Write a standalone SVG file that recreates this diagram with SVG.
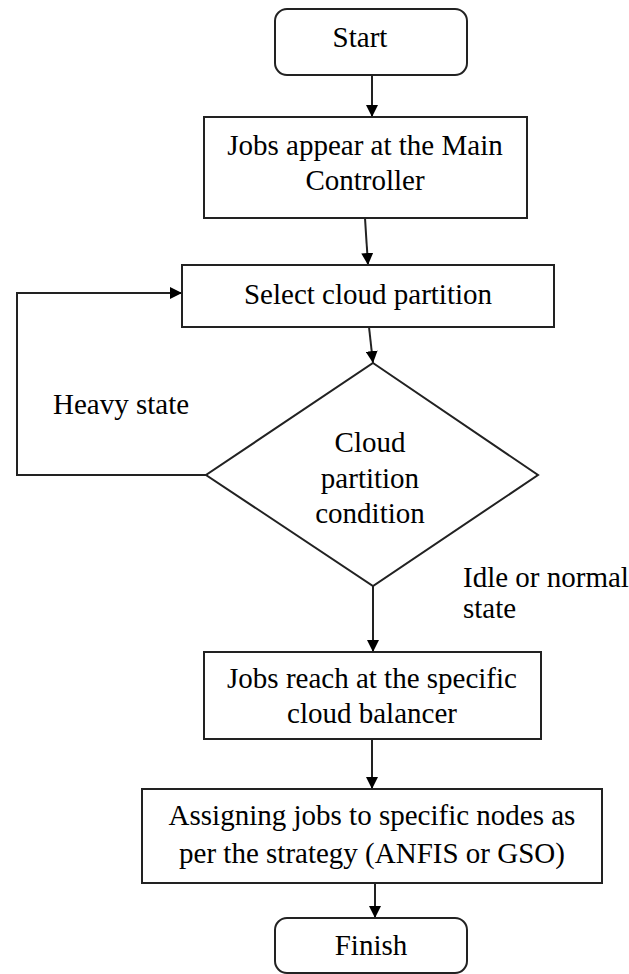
<svg xmlns="http://www.w3.org/2000/svg" width="629" height="974" viewBox="0 0 629 974">
<style>
.box{fill:#fff;stroke:#222;stroke-width:2}
.t{font-family:'Liberation Serif','Times New Roman','DejaVu Serif',serif;font-size:29px;fill:#000;text-anchor:middle}
.l{font-family:'Liberation Serif','Times New Roman','DejaVu Serif',serif;font-size:29px;fill:#000}
.c{fill:none;stroke:#222;stroke-width:2}
</style>
<defs>
<marker id="ah" markerUnits="userSpaceOnUse" viewBox="0 0 12 12" refX="12" refY="6" markerWidth="12" markerHeight="12" orient="auto">
<path d="M0,0 L12,6 L0,12 z" fill="#000"/>
</marker>
</defs>
<rect width="629" height="974" fill="#fff"/>
<g id="connectors">
<line class="c" x1="372" y1="75" x2="372" y2="117" marker-end="url(#ah)"/>
<line class="c" x1="365" y1="218" x2="368" y2="265" marker-end="url(#ah)"/>
<line class="c" x1="369" y1="327" x2="373" y2="363" marker-end="url(#ah)"/>
<line class="c" x1="373" y1="586" x2="373" y2="652" marker-end="url(#ah)"/>
<line class="c" x1="372" y1="739" x2="372" y2="789" marker-end="url(#ah)"/>
<line class="c" x1="375" y1="883" x2="375" y2="918" marker-end="url(#ah)"/>
<polyline class="c" points="206,475 17,475 17,293 182,293" marker-end="url(#ah)"/>
<text class="l" x="53" y="414" font-family="Liberation Serif, serif">Heavy state</text>
<text class="l" x="463" y="587" font-family="Liberation Serif, serif">Idle or normal</text>
<text class="l" x="463" y="618" font-family="Liberation Serif, serif">state</text>
</g>
<g id="start">
<rect class="box" x="275" y="9" width="192" height="66" rx="12"/>
<text class="t" x="360" y="47" font-family="Liberation Serif, serif">Start</text>
</g>
<g id="jobs-appear">
<rect class="box" x="204" y="117" width="323" height="101"/>
<text class="t" x="365" y="155" font-family="Liberation Serif, serif">Jobs appear at the Main</text>
<text class="t" x="365" y="190" font-family="Liberation Serif, serif">Controller</text>
</g>
<g id="select-partition">
<rect class="box" x="182" y="265" width="372" height="62"/>
<text class="t" x="368" y="304" font-family="Liberation Serif, serif">Select cloud partition</text>
</g>
<g id="condition">
<polygon class="box" points="373,363 538,475 373,586 206,475"/>
<text class="t" x="370" y="452" font-family="Liberation Serif, serif">Cloud</text>
<text class="t" x="370" y="488" font-family="Liberation Serif, serif">partition</text>
<text class="t" x="370" y="523" font-family="Liberation Serif, serif">condition</text>
</g>
<g id="jobs-reach">
<rect class="box" x="204" y="652" width="337" height="87"/>
<text class="t" x="372" y="688" font-family="Liberation Serif, serif">Jobs reach at the specific</text>
<text class="t" x="372" y="723" font-family="Liberation Serif, serif">cloud balancer</text>
</g>
<g id="assigning">
<rect class="box" x="142" y="789" width="460" height="94"/>
<text class="t" x="372" y="825" font-family="Liberation Serif, serif">Assigning jobs to specific nodes as</text>
<text class="t" x="372" y="863" font-family="Liberation Serif, serif">per the strategy (ANFIS or GSO)</text>
</g>
<g id="finish">
<rect class="box" x="275" y="918" width="192" height="55" rx="12"/>
<text class="t" x="371" y="955" font-family="Liberation Serif, serif">Finish</text>
</g>
</svg>
